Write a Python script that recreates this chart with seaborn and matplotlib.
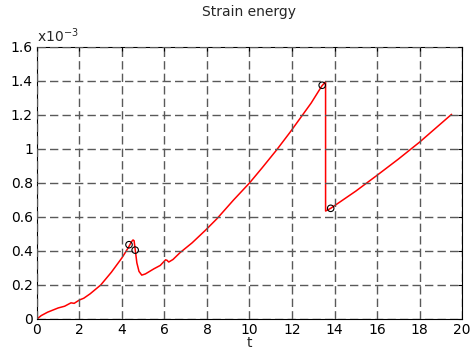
import matplotlib
matplotlib.use("Agg")
import matplotlib.pyplot as plt
import seaborn as sns
import pandas as pd

# Strain energy history (units of 1e-3)
t = [0.0, 0.2, 0.5, 1.0, 1.3, 1.6, 1.75, 1.85, 2.0, 2.2, 2.5, 3.0, 3.5, 4.0,
     4.3, 4.45, 4.52, 4.57, 4.62, 4.7, 4.8, 4.93, 5.1, 5.5, 5.8, 6.05, 6.12,
     6.2, 6.4, 6.73, 7.3, 7.91, 8.47, 9.25, 10.0, 10.6, 11.28, 11.9, 12.38,
     12.9, 13.4, 13.58, 13.58, 13.82, 15.0, 16.0, 17.0, 18.0, 19.51]
energy = [0.0, 0.02, 0.04, 0.065, 0.075, 0.095, 0.092, 0.1, 0.112, 0.122, 0.148,
          0.2, 0.275, 0.36, 0.42, 0.455, 0.465, 0.46, 0.41, 0.33, 0.28, 0.258,
          0.265, 0.295, 0.315, 0.348, 0.345, 0.335, 0.35, 0.39, 0.448, 0.52,
          0.59, 0.70, 0.80, 0.89, 0.995, 1.097, 1.18, 1.27, 1.37, 1.396, 0.635,
          0.651, 0.752, 0.845, 0.94, 1.04, 1.204]

# Event markers
event_t = [4.33, 4.62, 13.42, 13.82]
event_energy = [0.437, 0.405, 1.375, 0.651]

x_ticks = [0, 2, 4, 6, 8, 10, 12, 14, 16, 18, 20]
y_ticks = [0, 0.2, 0.4, 0.6, 0.8, 1.0, 1.2, 1.4, 1.6]
y_tick_labels = ["0", "0.2", "0.4", "0.6", "0.8", "1", "1.2", "1.4", "1.6"]

sns.set_style("white")
plt.rcParams["font.family"] = ["DejaVu Sans"]
plt.rcParams["mathtext.default"] = "regular"

df = pd.DataFrame({"t": t, "energy": energy})
ev = pd.DataFrame({"t": event_t, "energy": event_energy})

fig = plt.figure(figsize=(4.70, 3.52), dpi=100)
ax = fig.add_axes([0.0787, 0.0938, 0.9043, 0.7727])

sns.lineplot(data=df, x="t", y="energy", sort=False, estimator=None,
             color="red", linewidth=1.1, ax=ax)
sns.scatterplot(data=ev, x="t", y="energy", marker="o", s=22,
                facecolor="none", edgecolor="black", linewidth=0.8,
                ax=ax, zorder=4)

ax.set_xlim(0, 20)
ax.set_ylim(0, 1.6)
ax.set_xticks(x_ticks)
ax.set_yticks(y_ticks)
ax.set_yticklabels(y_tick_labels)
ax.tick_params(direction="in", length=3, width=0.8, colors="black",
               labelsize=10, top=True, right=True, pad=3)
ax.grid(True, color="0.35", linestyle=(0, (6, 3)), linewidth=1.0)
ax.set_axisbelow(False)
for side in ax.spines.values():
    side.set_color("black")
    side.set_linewidth(0.8)

ax.set_xlabel("t", fontsize=10, labelpad=-1)
ax.set_ylabel("")
ax.set_title("Strain energy", fontsize=10, pad=22)
ax.text(0.0, 1.006, r"x10$^{-3}$", transform=ax.transAxes,
        ha="left", va="bottom", fontsize=10)

fig.savefig("out.png", dpi=100, facecolor="white")
